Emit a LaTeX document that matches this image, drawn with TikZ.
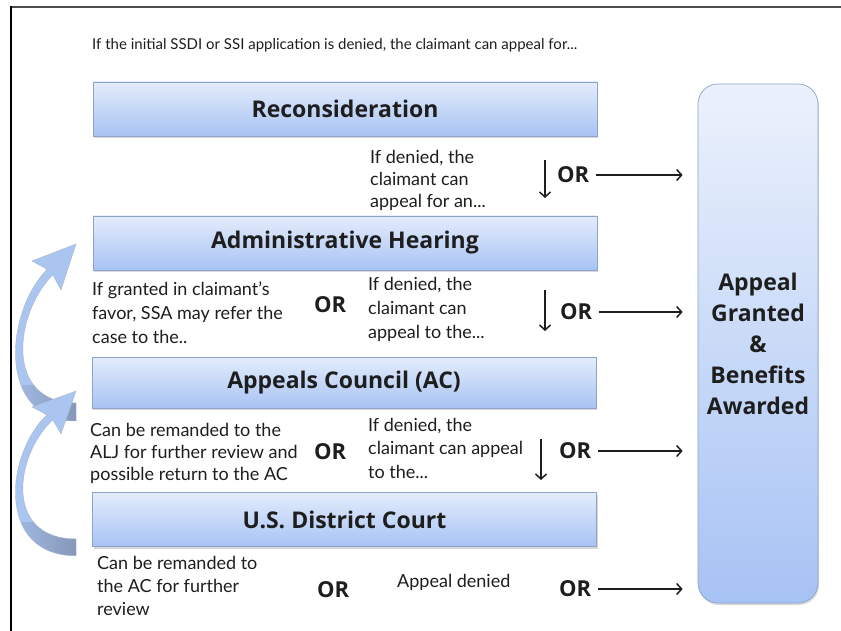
\documentclass[tikz,border=0pt]{standalone}
\usepackage{fontspec}
\setmainfont{Lato}
\newfontfamily\headfont{Open Sans}
\usetikzlibrary{shadows,arrows.meta}
\definecolor{boxtop}{HTML}{E4ECFB}
\definecolor{boxbot}{HTML}{A7C3F4}
\definecolor{boxedge}{HTML}{8DA3C9}
\definecolor{arrowblue}{HTML}{A9C5F0}
\definecolor{arrowdark}{HTML}{8796B8}
\definecolor{inkgray}{HTML}{1E1E1E}
\newcommand\bendpath{(76,421) .. controls (-4,421) and (5,312) .. (47.2,269.2) -- (32,261) -- (76,244) -- (61,290) -- (52.8,274.8) .. controls (14.3,313.9) and (4,403) .. (76,403) -- cycle}
\newcommand\bendarrow{%
  \fill[arrowblue] \bendpath;
  \begin{scope}
    \clip (0,385) rectangle (80,430);
    \shade[left color=arrowblue, right color=arrowdark] \bendpath;
  \end{scope}
  \draw[arrowdark!70, line width=0.4pt] \bendpath;}
\begin{document}
\begin{tikzpicture}[x=1pt,y=-1pt,
  stage/.style={draw=boxedge, line width=0.7pt, top color=boxtop, bottom color=boxbot,
    minimum width=504pt, minimum height=54pt, inner sep=0pt,
    font=\headfont\fontsize{23}{26}\selectfont\bfseries, text=inkgray,
    drop shadow={opacity=0.3, shadow xshift=1pt, shadow yshift=-2pt}},
  granted/.style={draw=boxedge, line width=0.7pt, top color=boxtop!70!white, bottom color=boxbot,
    rounded corners=20pt, minimum width=120pt, minimum height=519pt, inner sep=0pt,
    align=center, font=\headfont\fontsize{23}{31}\selectfont\bfseries, text=inkgray,
    drop shadow={opacity=0.3, shadow xshift=1pt, shadow yshift=-2pt}},
  note/.style={anchor=north west, align=left, inner sep=0pt,
    font=\fontsize{18}{22}\selectfont, text=inkgray},
  orword/.style={inner sep=0pt, font=\headfont\fontsize{22}{24}\selectfont\bfseries, text=inkgray},
  flow/.style={-{Straight Barb[length=5pt,width=11pt]}, line width=1.5pt, inkgray},
  downflow/.style={-{Straight Barb[length=5pt,width=11pt]}, line width=1.5pt, inkgray}
]
\useasboundingbox (0,0) rectangle (841,631);
\fill[white] (0,0) rectangle (841,631);
% frame
\draw[gray!60!black, line width=1.5pt] (10,7) -- (841,7);
\draw[black, line width=1.5pt] (11,6) -- (11,631);

% title
\node[note, font=\fontsize{15}{18}\selectfont] (title) at (92,38) {If the initial SSDI or SSI application is denied, the claimant can appeal for...};

% stages
\node[stage] (recon) at (345,109) {Reconsideration};
\node[stage] (hearing) at (345,243) {Administrative Hearing};
\node[stage, minimum height=51pt] (council) at (344,382.5) {Appeals Council (AC)};
\node[stage] (court) at (344.5,519.5) {U.S. District Court};

% right box
\node[granted] (award) at (758,343.5) {Appeal\\Granted\\\&\\Benefits\\Awarded};

% notes
\node[note] (n1) at (370,150) {If denied, the\\claimant can\\appeal for an...};
\node[note, font=\fontsize{18}{24}\selectfont] (n2l) at (92,282) {If granted in claimant's\\favor, SSA may refer the\\case to the..};
\node[note, font=\fontsize{18}{24}\selectfont] (n2r) at (368,277) {If denied, the\\claimant can\\appeal to the...};
\node[note] (n3l) at (90,423) {Can be remanded to the\\ALJ for further review and\\possible return to the AC};
\node[note, font=\fontsize{18}{23.5}\selectfont] (n3r) at (368,418) {If denied, the\\claimant can appeal\\to the...};
\node[note, font=\fontsize{18}{23}\selectfont] (n4l) at (97,556) {Can be remanded to\\the AC for further\\review};
\node[note, anchor=west] (denied) at (397,582) {Appeal denied};

% OR words
\node[orword, anchor=west] (or1) at (557,175) {OR};
\node[orword, anchor=west] (or2) at (560,312) {OR};
\node[orword, anchor=west] (or3) at (559,451) {OR};
\node[orword, anchor=west] (or4) at (559,589) {OR};
\node[orword, anchor=west] (mor2) at (314,305) {OR};
\node[orword, anchor=west] (mor3) at (314,452) {OR};
\node[orword, anchor=west] (mor4) at (317,590) {OR};

% arrows to the award box
\foreach \o in {or1,or2,or3,or4}
  \draw[flow, shorten >=15pt] (\o.east) ++(7,0) -- (\o -| award.west);

% down arrows
\coordinate (d1a) at (545,160); \coordinate (d1b) at (545,198);
\coordinate (d2a) at (545,290); \coordinate (d2b) at (545,331);
\coordinate (d3a) at (541,439); \coordinate (d3b) at (541,480);
\draw[downflow] (d1a) -- (d1b);
\draw[downflow] (d2a) -- (d2b);
\draw[downflow] (d3a) -- (d3b);

% curved return arrows
\bendarrow
\begin{scope}[shift={(0,164.2)}, yscale=0.93]
\bendarrow
\end{scope}
\end{tikzpicture}
\end{document}
